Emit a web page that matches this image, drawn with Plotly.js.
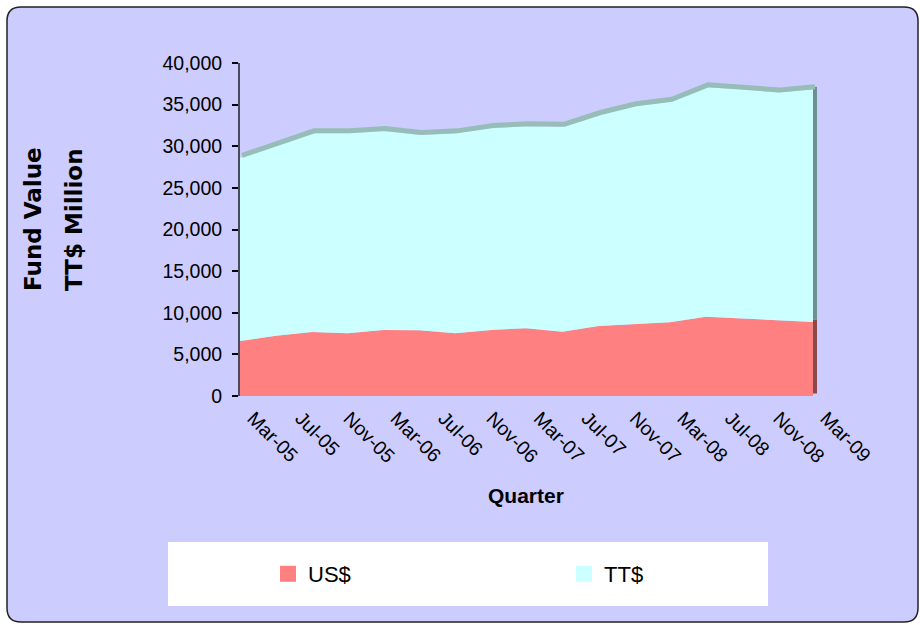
<!DOCTYPE html>
<html>
<head>
<meta charset="utf-8">
<script src="https://cdn.plot.ly/plotly-3.0.1.min.js"></script>
<style>
    html, body { margin:0; padding:0; background:#ffffff; }
    #fundChart { width:920px; height:625px; }
</style>
</head>
<body>

<div id="fundChart"></div>

<script>

/* ==========================================
   DATA (TT$ Million)
========================================== */

const quarters = [
    "2005-03-01", "2005-06-01", "2005-09-01", "2005-12-01",
    "2006-03-01", "2006-06-01", "2006-09-01", "2006-12-01",
    "2007-03-01", "2007-06-01", "2007-09-01", "2007-12-01",
    "2008-03-01", "2008-06-01", "2008-09-01", "2008-12-01",
    "2009-03-01"
];

const usFund = [
    6600, 7250, 7690, 7530, 7930, 7890, 7530, 7930,
    8150, 7730, 8410, 8650, 8850, 9530, 9290, 9090, 8890
];

const ttFund = [
    22000, 22820, 23860, 24020, 23900, 23460, 24020, 24270,
    24250, 24620, 25340, 26150, 26500, 27550, 27550, 27380, 27950
];

const seriesNames = ["US$", "TT$"];

const yTicks = [0, 5000, 10000, 15000, 20000, 25000, 30000, 35000, 40000];


/* ==========================================
   LAYOUT HELPERS
========================================== */

const W = 920, H = 625;

// front face of the area runs 240 -> 813, plot box a bit wider for the depth edge
const frontLeft = 240, frontRight = 813;
const plotLeft = 240, plotRight = 824, plotTop = 63, plotBottom = 396;

function px(x){

    return (x - plotLeft) / (plotRight - plotLeft);

}

function py(y){

    return (plotBottom - y) / (plotBottom - plotTop);

}

function roundRectPath(x0, y0, x1, y1, r){

    const a = px(x0), b = px(x1), c = py(y0), d = py(y1);

    const rx = r / (plotRight - plotLeft), ry = r / (plotBottom - plotTop);

    return "M" + (a + rx) + "," + c +
        " L" + (b - rx) + "," + c +
        " Q" + b + "," + c + " " + b + "," + (c - ry) +
        " L" + b + "," + (d + ry) +
        " Q" + b + "," + d + " " + (b - rx) + "," + d +
        " L" + (a + rx) + "," + d +
        " Q" + a + "," + d + " " + a + "," + (d + ry) +
        " L" + a + "," + (c - ry) +
        " Q" + a + "," + c + " " + (a + rx) + "," + c + " Z";

}

function plotlyDate(ms){

    return new Date(ms).toISOString().replace("T", " ").replace("Z", "");

}


/* ==========================================
   DRAW
========================================== */

function drawFundChart(){

    const totals = usFund.map((v, i) => v + ttFund[i]);

    const last = quarters.length - 1;

    const t0 = Date.parse(quarters[0]);
    const t1 = Date.parse(quarters[last]);

    const msPerPx = (t1 - t0) / (frontRight - frontLeft);
    const xEnd = t1 + msPerPx * (plotRight - frontRight);

    // depth offset for the fake 3d top edge
    const dt = msPerPx * 2;
    const dy = 40000 * 2.5 / (plotBottom - plotTop);

    const traces = [

        {
            x: quarters,
            y: usFund,
            name: seriesNames[0],
            type: "scatter",
            mode: "lines",
            stackgroup: "fund",
            line: { width: 0, color: "#FF8080" },
            fillcolor: "#FF8080",
            showlegend: false,
            hovertemplate: "US$: %{y:,}<extra></extra>"
        },

        {
            x: quarters,
            y: ttFund,
            name: seriesNames[1],
            type: "scatter",
            mode: "lines",
            stackgroup: "fund",
            line: { width: 0, color: "#CCFFFF" },
            fillcolor: "#CCFFFF",
            showlegend: false,
            hovertemplate: "TT$: %{y:,}<extra></extra>"
        },

        {
            x: [quarters[last], quarters[last]],
            y: [0, usFund[last]],
            xaxis: "x2",
            yaxis: "y2",
            mode: "lines",
            line: { width: 4, color: "#8A4848" },
            showlegend: false,
            hoverinfo: "skip"
        },

        {
            x: [quarters[last], quarters[last]],
            y: [usFund[last], totals[last]],
            xaxis: "x2",
            yaxis: "y2",
            mode: "lines",
            line: { width: 4, color: "#6E9090" },
            showlegend: false,
            hoverinfo: "skip"
        },

        {
            x: quarters,
            y: totals,
            xaxis: "x2",
            yaxis: "y2",
            mode: "lines",
            line: { width: 5, color: "#97BDB9" },
            showlegend: false,
            hoverinfo: "skip"
        },

        {
            x: [null],
            y: [null],
            name: seriesNames[0],
            mode: "markers",
            marker: { symbol: "square", size: 16, color: "#FF8080" },
            legend: "legend"
        },

        {
            x: [null],
            y: [null],
            name: seriesNames[1],
            mode: "markers",
            marker: { symbol: "square", size: 16, color: "#CCFFFF" },
            legend: "legend2"
        }

    ];

    const legendBase = {
        orientation: "h",
        xref: "container",
        yref: "container",
        y: 1 - 574 / H,
        xanchor: "left",
        yanchor: "middle",
        bgcolor: "rgba(0,0,0,0)",
        font: { size: 22 }
    };

    const layout = {

        width: W,
        height: H,
        margin: { l: plotLeft, r: W - plotRight, t: plotTop, b: H - plotBottom },
        paper_bgcolor: "#ffffff",
        plot_bgcolor: "rgba(0,0,0,0)",
        font: { family: "Liberation Sans, Arial, sans-serif", color: "#000000", size: 19 },
        separators: ".,",

        xaxis: {
            type: "date",
            range: [quarters[0], plotlyDate(xEnd)],
            tick0: "2005-03-01",
            dtick: "M4",
            tickformat: "%b-%y",
            tickangle: 45,
            ticks: "",
            ticklabelshift: 13,
            ticklabelstandoff: 6,
            showgrid: false,
            showline: false,
            zeroline: false,
            tickfont: { size: 19.5 }
        },

        yaxis: {
            range: [0, 40000],
            tickvals: yTicks,
            tickformat: ",d",
            ticks: "outside",
            ticklen: 6,
            tickwidth: 1.5,
            tickcolor: "#000000",
            ticklabelstandoff: 6,
            showline: true,
            linecolor: "#4a4a5a",
            linewidth: 2,
            showgrid: false,
            zeroline: false,
            tickfont: { size: 19.5 }
        },

        xaxis2: {
            type: "date",
            overlaying: "x",
            range: [plotlyDate(t0 - dt), plotlyDate(xEnd - dt)],
            visible: false
        },

        yaxis2: {
            overlaying: "y",
            range: [-dy, 40000 - dy],
            visible: false
        },

        legend: Object.assign({}, legendBase, { x: 268 / W }),

        legend2: Object.assign({}, legendBase, { x: 564 / W }),

        shapes: [

            {
                type: "path",
                xref: "paper",
                yref: "paper",
                layer: "below",
                path: roundRectPath(7, 7, 918, 622, 14),
                fillcolor: "#CCCCFF",
                line: { color: "#222222", width: 1.5 }
            },

            {
                type: "rect",
                xref: "paper",
                yref: "paper",
                layer: "below",
                x0: px(168),
                x1: px(768),
                y0: py(542),
                y1: py(606),
                fillcolor: "#ffffff",
                line: { width: 0 }
            }

        ],

        annotations: [

            {
                text: "<b>Quarter</b>",
                xref: "paper",
                yref: "paper",
                x: px(526),
                y: py(495),
                xanchor: "center",
                yanchor: "middle",
                showarrow: false,
                font: { size: 21 }
            },

            {
                text: "<b>Fund Value</b>",
                xref: "paper",
                yref: "paper",
                x: px(33),
                y: py(219),
                xanchor: "center",
                yanchor: "middle",
                textangle: -90,
                showarrow: false,
                font: { family: "DejaVu Sans, Verdana, sans-serif", size: 23 }
            },

            {
                text: "<b>TT$ Million</b>",
                xref: "paper",
                yref: "paper",
                x: px(74),
                y: py(219),
                xanchor: "center",
                yanchor: "middle",
                textangle: -90,
                showarrow: false,
                font: { family: "DejaVu Sans, Verdana, sans-serif", size: 23 }
            }

        ],

        showlegend: true

    };

    Plotly.newPlot("fundChart", traces, layout, { displayModeBar: false });

}

drawFundChart();

</script>

</body>
</html>
